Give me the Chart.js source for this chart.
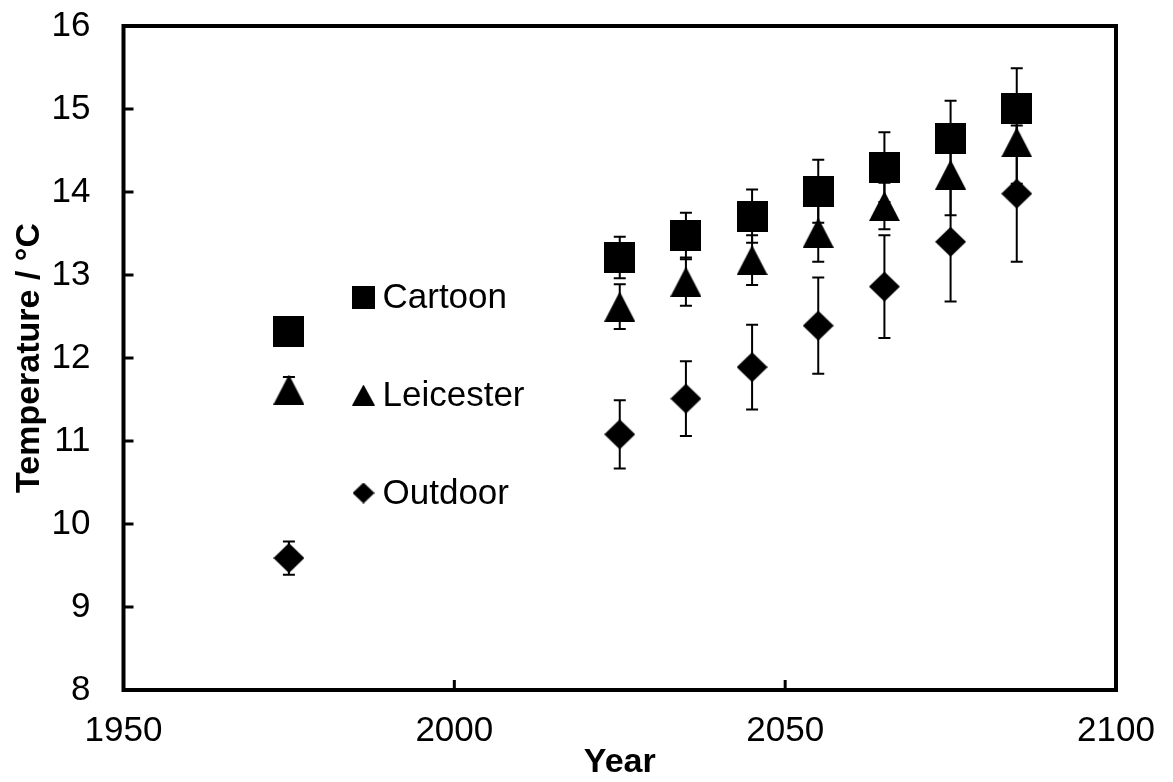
<!DOCTYPE html>
<html lang="en">
<head>
<meta charset="UTF-8">
<title>Temperature by year</title>
<script src="https://cdn.jsdelivr.net/npm/chart.js"></script>
<style>
    body {
        margin: 0;
        background-color: #ffffff;
    }
    #wrap {
        width: 1173px;
        height: 782px;
        position: relative;
    }
</style>
</head>
<body>
<div id="wrap"><canvas id="myChart"></canvas></div>

<script>
// values
const years = [1975, 2025, 2035, 2045, 2055, 2065, 2075, 2085];
const cartoon = [12.32, 13.21, 13.47, 13.71, 14.01, 14.30, 14.64, 15.01];
const cartoonErr = [0.10, 0.25, 0.28, 0.32, 0.38, 0.42, 0.46, 0.48];
const leicester = [11.62, 12.62, 12.92, 13.18, 13.51, 13.83, 14.21, 14.60];
const leicesterErr = [0.15, 0.27, 0.29, 0.30, 0.35, 0.28, 0.49, 0.50];
const outdoor = [9.59, 11.08, 11.51, 11.89, 12.39, 12.86, 13.40, 13.98];
const outdoorErr = [0.20, 0.41, 0.45, 0.51, 0.58, 0.62, 0.72, 0.82];

const seriesNames = ['Cartoon', 'Leicester', 'Outdoor'];
const xTicks = [1950, 2000, 2050, 2100];
const yTicks = [8, 9, 10, 11, 12, 13, 14, 15, 16];

const FONT = "'Liberation Sans', Arial, sans-serif";

// black marker shapes drawn on small canvases
function makeMarker(shape, w, h) {
    const c = document.createElement('canvas');
    c.width = w;
    c.height = h;
    const g = c.getContext('2d');
    g.fillStyle = '#000';
    g.beginPath();
    if (shape === 'square') {
        g.rect(0, 0, w, h);
    } else if (shape === 'triangle') {
        g.moveTo(w / 2, 0);
        g.lineTo(w, h);
        g.lineTo(0, h);
        g.closePath();
    } else {
        g.moveTo(w / 2, 0);
        g.lineTo(w, h / 2);
        g.lineTo(w / 2, h);
        g.lineTo(0, h / 2);
        g.closePath();
    }
    g.fill();
    return c;
}

const bigMarkers = [makeMarker('square', 31, 31), makeMarker('triangle', 31, 30), makeMarker('diamond', 31, 30)];
const smallMarkers = [makeMarker('square', 23, 23), makeMarker('triangle', 23, 21), makeMarker('diamond', 22, 21)];

function toPoints(vals) {
    return vals.map((v, i) => ({x: years[i], y: v}));
}

// frame round the plot and the inward tick marks
const framePlugin = {
    id: 'frame',
    afterDraw(chart) {
        const {ctx, chartArea: a, scales} = chart;
        ctx.save();
        ctx.strokeStyle = '#000';
        ctx.lineWidth = 3;
        yTicks.forEach(t => {
            const y = scales.y.getPixelForValue(t);
            ctx.beginPath();
            ctx.moveTo(a.left, y);
            ctx.lineTo(a.left + 10, y);
            ctx.stroke();
        });
        xTicks.forEach(t => {
            const x = scales.x.getPixelForValue(t);
            ctx.beginPath();
            ctx.moveTo(x, a.bottom);
            ctx.lineTo(x, a.bottom - 10);
            ctx.stroke();
        });
        ctx.lineWidth = 4;
        ctx.strokeRect(a.left, a.top, a.right - a.left, a.bottom - a.top);
        ctx.restore();
    }
};

// vertical error bars with caps
const errorBarPlugin = {
    id: 'errorBars',
    afterDatasetsDraw(chart) {
        const {ctx, scales} = chart;
        ctx.save();
        ctx.strokeStyle = '#000';
        ctx.lineWidth = 2;
        chart.data.datasets.forEach(ds => {
            ds.data.forEach((p, i) => {
                const e = ds.errors[i];
                const x = scales.x.getPixelForValue(p.x);
                const yTop = scales.y.getPixelForValue(p.y + e);
                const yBot = scales.y.getPixelForValue(p.y - e);
                ctx.beginPath();
                ctx.moveTo(x, yTop);
                ctx.lineTo(x, yBot);
                ctx.moveTo(x - 6, yTop);
                ctx.lineTo(x + 6, yTop);
                ctx.moveTo(x - 6, yBot);
                ctx.lineTo(x + 6, yBot);
                ctx.stroke();
            });
        });
        ctx.restore();
    }
};

// legend inside the plot area
const legendPlugin = {
    id: 'innerLegend',
    afterDraw(chart) {
        const {ctx, chartArea: a} = chart;
        ctx.save();
        ctx.fillStyle = '#000';
        ctx.font = '35px ' + FONT;
        ctx.textAlign = 'left';
        ctx.textBaseline = 'middle';
        chart.data.datasets.forEach((ds, i) => {
            const cx = a.left + 240;
            const cy = a.top + 271 + i * 98;
            const m = smallMarkers[i];
            ctx.drawImage(m, cx - m.width / 2, cy - m.height / 2);
            ctx.fillText(ds.label, cx + 19, cy + 1);
        });
        ctx.restore();
    }
};

const errs = [cartoonErr, leicesterErr, outdoorErr];
const vals = [cartoon, leicester, outdoor];

const datasets = seriesNames.map((name, i) => ({
    label: name,
    data: toPoints(vals[i]),
    errors: errs[i],
    pointStyle: bigMarkers[i],
    pointRadius: 15,
    pointHoverRadius: 15,
    showLine: false,
    backgroundColor: '#000',
    borderColor: '#000'
}));

const ctx = document.getElementById('myChart').getContext('2d');

new Chart(ctx, {
    type: 'scatter',
    data: {datasets: datasets},
    options: {
        responsive: true,
        maintainAspectRatio: false,
        animation: false,
        events: [],
        layout: {
            autoPadding: false,
            padding: {top: 26, right: 57, left: 0, bottom: 0}
        },
        plugins: {
            legend: {display: false},
            tooltip: {enabled: false}
        },
        scales: {
            x: {
                type: 'linear',
                min: 1950,
                max: 2100,
                afterFit: s => {
                    s.height = 92;
                    s.paddingLeft = 0;
                    s.paddingRight = 0;
                },
                afterBuildTicks: s => { s.ticks = xTicks.map(v => ({value: v})); },
                grid: {display: false, drawTicks: false},
                border: {display: false},
                ticks: {
                    color: '#000',
                    padding: 20,
                    maxRotation: 0,
                    callback: v => String(v),
                    font: {family: FONT, size: 35}
                },
                title: {
                    display: true,
                    text: 'Year',
                    color: '#000',
                    padding: {top: 0, bottom: 2},
                    font: {family: FONT, size: 34, weight: 'bold', lineHeight: 1}
                }
            },
            y: {
                min: 8,
                max: 16,
                afterFit: s => {
                    s.width = 123.5;
                    s.paddingTop = 0;
                    s.paddingBottom = 0;
                },
                afterBuildTicks: s => { s.ticks = yTicks.map(v => ({value: v})); },
                grid: {display: false, drawTicks: false},
                border: {display: false},
                ticks: {
                    color: '#000',
                    padding: 33,
                    callback: v => String(v),
                    font: {family: FONT, size: 35}
                },
                title: {
                    display: true,
                    text: 'Temperature / °C',
                    color: '#000',
                    padding: {top: 9, bottom: 0},
                    font: {family: FONT, size: 34, weight: 'bold'}
                }
            }
        }
    },
    plugins: [errorBarPlugin, framePlugin, legendPlugin]
});
</script>
</body>
</html>
